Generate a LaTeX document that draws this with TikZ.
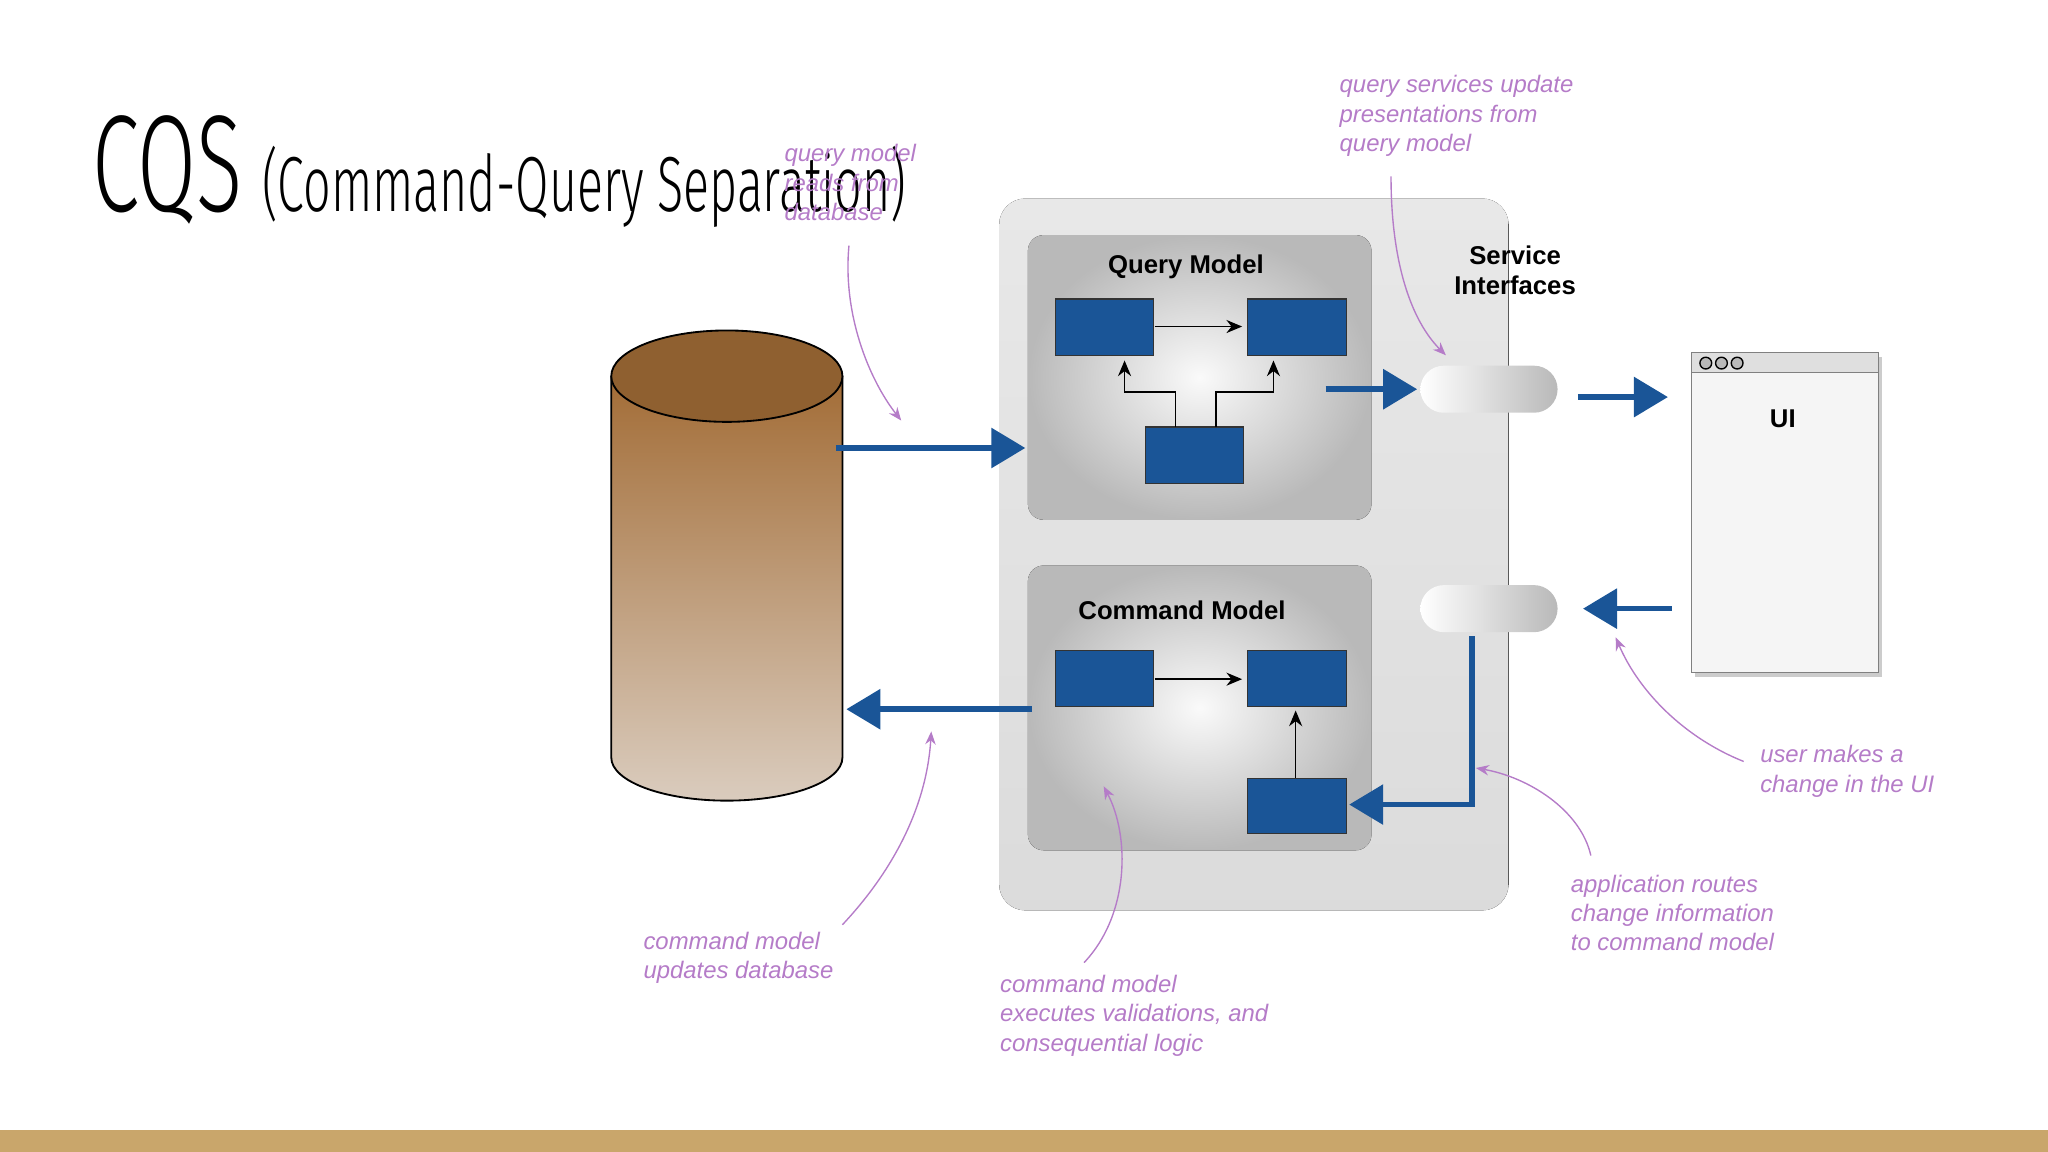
\documentclass[tikz,border=0pt]{standalone}
\usepackage{fontspec}
\setmainfont{Liberation Sans}
\newfontfamily\titlefont{Fira Sans Light}[FakeStretch=0.62]
\usetikzlibrary{arrows.meta,shapes.geometric}
\definecolor{qblue}{HTML}{1A5597}
\definecolor{note}{HTML}{B57CC8}
\definecolor{bar}{HTML}{C9A66B}
\tikzset{
 blk/.style={draw=black!80,line width=0.3pt,fill=qblue},
 thin/.style={-{Stealth[length=1.2mm,width=1mm]},line width=0.3pt,black},
 fat/.style={line width=1.2pt,qblue,-{Triangle[length=2.6mm,width=3mm]}},
 lab/.style={font=\fontsize{5.2}{6.4}\selectfont\itshape,text=note,align=left,anchor=north west,inner sep=0},
 nt/.style={note,line width=0.3pt,-{Stealth[length=1mm,width=0.8mm]}},
 box/.style={rounded corners=1.2mm,inner color=white!96!gray,outer color=gray!55},
 ttl/.style={font=\fontsize{5.6}{6.6}\selectfont\bfseries,align=center},
 pill/.style={rounded corners=1.8mm,left color=white,right color=gray!55,minimum width=1.05cm,minimum height=0.36cm,inner sep=0}
}
\begin{document}
\begin{tikzpicture}[x=0.01cm,y=-0.01cm]
\useasboundingbox (0,0) rectangle (1568,882);
\fill[bar] (0,865) rectangle (1568,882);
% title
\node[anchor=base west,inner sep=0,font=\titlefont\fontsize{30}{30}\selectfont] (t1) at (70,162) {CQS};
\node[anchor=base west,inner sep=0,font=\titlefont\fontsize{17}{17}\selectfont] (t2) at (200,162) {(Command-Query Separation)};
% cylinder
\fill[top color=brown!85!black,bottom color=gray!45!brown!40] (468,288) -- (468,580) arc[start angle=180,end angle=360,x radius=88.5,y radius=-33] -- (645,288) -- cycle;
\draw[line width=0.4pt] (468,288) -- (468,580) arc[start angle=180,end angle=360,x radius=88.5,y radius=-33] -- (645,288);
\draw[line width=0.4pt,fill=brown!75!black] (556.5,288) ellipse[x radius=88.5,y radius=35];
\node (db) at (556,440) {};
% panel
\fill[rounded corners=2mm,top color=gray!18,bottom color=gray!28,drop shadow/.style={}] (765,152) rectangle (1155,697);
\node (panel) at (960,425) {};
\fill[box] (787,180) rectangle (1050,398);
\fill[box] (787,433) rectangle (1050,651);
\node[ttl] (qm) at (908,204) {Query Model};
\node[ttl] (cm) at (905,467) {Command Model};
\node[ttl] (si) at (1160,207) {Service\\Interfaces};
% blue boxes
\draw[blk] (808,229) rectangle (883,272) node[midway] (q1) {};
\draw[blk] (955,229) rectangle (1031,272) node[midway] (q2) {};
\draw[blk] (877,327) rectangle (952,370) node[midway] (q3) {};
\draw[blk] (808,498) rectangle (883,541) node[midway] (c1) {};
\draw[blk] (955,498) rectangle (1031,541) node[midway] (c2) {};
\draw[blk] (955,596) rectangle (1031,638) node[midway] (c3) {};
\draw[thin] (884,250) -- (951,250);
\draw[thin] (900,327) -- (900,300) -- (861,300) -- (861,276);
\draw[thin] (931,327) -- (931,300) -- (975,300) -- (975,276);
\draw[thin] (884,520) -- (951,520);
\draw[thin] (992,596) -- (992,544);
% pills
\node[pill] (p1) at (1140,298) {};
\node[pill] (p2) at (1140,466) {};
% UI
\fill[gray!40] (1298,273) rectangle (1441,518);
\draw[fill=gray!8,line width=0.3pt,draw=gray] (1295,270) rectangle (1438,515);
\draw[fill=gray!25,draw=gray,line width=0.3pt] (1295,270) rectangle (1438,285);
\foreach \x in {1306,1318,1330}{\draw[fill=gray!55,line width=0.3pt] (\x,278) circle[radius=4.5];}
\node[ttl] (ui) at (1365,321) {UI};
% fat arrows
\draw[fat] (640,343) -- (785,343);
\draw[fat] (1015,298) -- (1085,298);
\draw[fat] (1208,304) -- (1277,304);
\draw[fat] (1280,466) -- (1212,466);
\draw[fat] (790,543) -- (648,543);
\draw[fat] (1127,487) -- (1127,616) -- (1033,616);
% notes
\node[lab] (n1) at (600,110) {query model\\reads from\\database};
\draw[nt] (650,188) .. controls (645,240) and (665,290) .. (690,322);
\node[lab] (n2) at (1025,57) {query services update\\presentations from\\query model};
\draw[nt] (1065,135) .. controls (1065,200) and (1080,245) .. (1107,272);
\node[lab] (n3) at (1347,570) {user makes a\\change in the UI};
\draw[nt] (1335,583) .. controls (1290,565) and (1255,530) .. (1237,488);
\node[lab] (n4) at (1202,669) {application routes\\change information\\to command model};
\draw[nt] (1218,655) .. controls (1210,620) and (1170,595) .. (1130,588);
\node[lab] (n5) at (765,746) {command model\\executes validations, and\\consequential logic};
\draw[nt] (830,737) .. controls (865,700) and (865,640) .. (845,602);
\node[lab] (n6) at (492,713) {command model\\updates database};
\draw[nt] (645,708) .. controls (690,660) and (710,610) .. (713,560);
\end{tikzpicture}
\end{document}
